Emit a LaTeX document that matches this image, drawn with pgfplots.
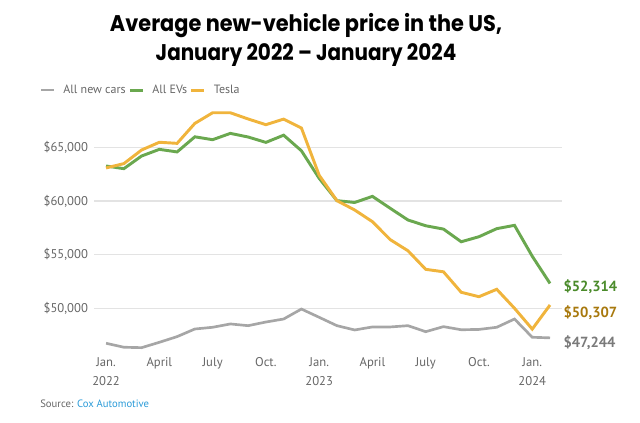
\documentclass[border=0pt]{standalone}
\usepackage{pgfplots}
\pgfplotsset{compat=1.18}
\usepackage{fontspec}
\setmainfont{PT Sans}
\newfontfamily\titlefont{Poppins}
\definecolor{cgray}{HTML}{A6A6A6}
\definecolor{cgreen}{HTML}{6AA84F}
\definecolor{corange}{HTML}{F0B43C}
\definecolor{lgreen}{HTML}{4B8B2B}
\definecolor{lorange}{HTML}{A8790E}
\definecolor{lgray}{HTML}{7A7A7A}
\definecolor{tickgray}{HTML}{666666}
\definecolor{gridgray}{HTML}{E3E3E3}
\definecolor{linkblue}{HTML}{2B9BD8}
\begin{document}
\begin{tikzpicture}
\useasboundingbox (0,0) rectangle (480pt,316.5pt);
\node[font=\titlefont\bfseries\fontsize{17}{20}\selectfont] at (229.5pt,297pt) {\scalebox{0.92}[1]{Average new-vehicle price in the US,}};
\node[font=\titlefont\bfseries\fontsize{17}{20}\selectfont] at (229.5pt,275.5pt) {\scalebox{0.88}[1]{January 2022 – January 2024}};
\begin{axis}[
  at={(70.5pt,53.1pt)}, anchor=south west,
  scale only axis, width=350.8pt, height=183.5pt,
  xmin=-0.68, xmax=25.66, ymin=46000, ymax=68800,
  scaled y ticks=false,
  axis line style={draw=none},
  tick style={draw=none},
  ymajorgrids, grid style={gridgray, line width=0.8pt},
  ytick={50000,55000,60000,65000},
  yticklabels={{\$50,000},{\$55,000},{\$60,000},{\$65,000}},
  xtick={0,3,6,9,12,15,18,21,24},
  xticklabels={Jan.,April,July,Oct.,Jan.,April,July,Oct.,Jan.},
  extra x ticks={0,12,24},
  extra x tick labels={2022,2023,2024},
  extra x tick style={xticklabel style={yshift=-14.25pt}},
  xticklabel style={font=\fontsize{9.5}{12}\selectfont, text=tickgray, yshift=-1.5pt},
  yticklabel style={font=\fontsize{9.5}{11}\selectfont, text=tickgray, xshift=-1pt},
  legend columns=3,
  legend style={at={(axis description cs:-0.125,1.0674)}, anchor=west, draw=none, fill=none,
    font=\fontsize{9}{11}\selectfont, text=tickgray,
    /tikz/every odd column/.append style={column sep=4pt}},
  legend image code/.code={\draw[#1] (0pt,0pt) -- (9.75pt,0pt);},
  clip=false,
]
\addplot[cgray, line width=2pt] coordinates {
(0,46740) (1,46370) (2,46330) (3,46830) (4,47360) (5,48070) (6,48230) (7,48540) (8,48380) (9,48720)
(10,49000) (11,49930) (12,49160) (13,48380) (14,47980) (15,48260) (16,48260) (17,48380) (18,47820) (19,48290)
(20,48000) (21,48030) (22,48230) (23,49000) (24,47300) (25,47244)};
\addlegendentry{All new cars}
\addplot[cgreen, line width=2.2pt] coordinates {
(0,63260) (1,63010) (2,64190) (3,64810) (4,64570) (5,65980) (6,65710) (7,66300) (8,65960) (9,65460)
(10,66130) (11,64680) (12,62110) (13,60030) (14,59860) (15,60430) (16,59320) (17,58230) (18,57690) (19,57380)
(20,56200) (21,56670) (22,57420) (23,57730) (24,54850) (25,52314)};
\addlegendentry{All EVs}
\addplot[corange, line width=2.2pt] coordinates {
(0,63080) (1,63480) (2,64750) (3,65470) (4,65370) (5,67230) (6,68220) (7,68220) (8,67640) (9,67110)
(10,67630) (11,66800) (12,62400) (13,60030) (14,59160) (15,58070) (16,56400) (17,55360) (18,53630) (19,53400)
(20,51490) (21,51080) (22,51770) (23,50000) (24,48060) (25,50307)};
\addlegendentry{Tesla}
\draw[cgreen, dotted, line width=0.9pt] (axis cs:25,52314) ++(2.5pt,0) -- ++(5.5pt,0);
\draw[corange, dotted, line width=0.9pt] (axis cs:25,50307) ++(2.5pt,0) -- ++(5.5pt,0);
\draw[cgray, dotted, line width=0.9pt] (axis cs:25,47244) ++(2.5pt,0) -- ++(5.5pt,0);
\node[anchor=west, inner sep=0pt, text=lgreen, font=\bfseries\fontsize{11}{13}\selectfont] at ([xshift=10pt,yshift=-2.5pt]axis cs:25,52314) {\$52,314};
\node[anchor=west, inner sep=0pt, text=lorange, font=\bfseries\fontsize{11}{13}\selectfont] at ([xshift=10pt,yshift=-6pt]axis cs:25,50307) {\$50,307};
\node[anchor=west, inner sep=0pt, text=lgray, font=\bfseries\fontsize{11}{13}\selectfont] at ([xshift=10pt,yshift=-3.75pt]axis cs:25,47244) {\$47,244};
\end{axis}
\node[anchor=west, inner sep=0pt, font=\fontsize{8}{10}\selectfont, text=tickgray] at (30pt,13.5pt) {Source: \textcolor{linkblue}{Cox Automotive}};
\end{tikzpicture}
\end{document}
